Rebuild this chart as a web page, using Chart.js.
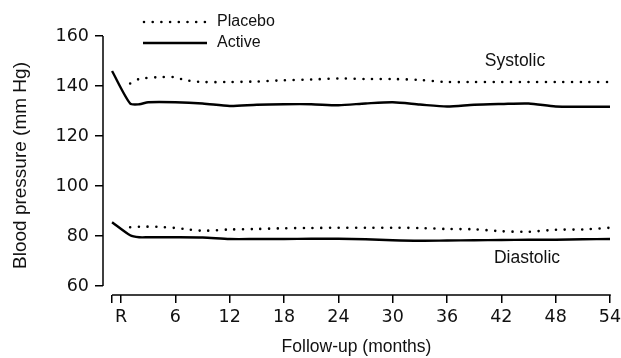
<!doctype html>
<html>
<head>
  <meta charset="utf-8" />
  <title>Blood pressure follow-up</title>
  <style>
    html, body { margin: 0; padding: 0; background: #fff; }
    .wrap { width: 621px; height: 358px; position: relative; }
  </style>
</head>
<body>
  <div class="wrap"><canvas id="chart" width="621" height="358"></canvas></div>

  <script src="https://cdn.jsdelivr.net/npm/chart.js@4.4.1/dist/chart.umd.min.js"></script>
  <script>
    // months of follow-up (-1 = screening, 0 = randomisation "R")
    const activeMonths  = [-1, 1, 2, 3, 6, 9, 12, 15, 18, 21, 24, 27, 30, 33, 36, 39, 42, 45, 48, 51, 54];
    const placeboMonths = [1, 2, 4, 6, 7, 9, 12, 15, 18, 21, 24, 27, 30, 33, 36, 39, 42, 45, 48, 51, 54];

    const activeSystolic   = [146, 133, 132.7, 133.5, 133.5, 133, 132, 132.5, 132.7, 132.7, 132.3, 133, 133.5, 132.6, 131.8, 132.5, 132.8, 133, 131.8, 131.7, 131.7];
    const activeDiastolic  = [85.5, 80.3, 79.5, 79.5, 79.5, 79.4, 78.8, 78.8, 78.8, 78.9, 78.9, 78.7, 78.3, 78.1, 78.2, 78.3, 78.4, 78.5, 78.5, 78.7, 78.8];
    const placeboSystolic  = [141, 142.8, 143.5, 143.5, 142.4, 141.6, 141.6, 141.8, 142.3, 142.6, 143, 142.8, 142.8, 142.4, 141.6, 141.6, 141.6, 141.6, 141.6, 141.6, 141.6];
    const placeboDiastolic = [83.5, 83.7, 83.7, 83.2, 82.8, 82.1, 82.6, 82.8, 83.1, 83.2, 83.3, 83.3, 83.3, 83.2, 82.8, 82.7, 81.9, 81.7, 82.5, 82.6, 83.3];

    const xTicks = [-1, 0, 6, 12, 18, 24, 30, 36, 42, 48, 54];
    const yTicks = [60, 80, 100, 120, 140, 160];

    const FONT = "'Liberation Sans', Arial, sans-serif";
    const TICKFONT = "'DejaVu Sans', sans-serif";

    function pts(xs, ys) { return xs.map((x, i) => ({ x, y: ys[i] })); }

    function line(label, xs, ys, dotted) {
      return {
        label,
        data: pts(xs, ys),
        borderColor: '#000',
        borderWidth: dotted ? 2.6 : 2.4,
        borderDash: dotted ? [0, 8.7] : [],
        borderCapStyle: dotted ? 'round' : 'butt',
        pointRadius: 0,
        tension: 0.25,
        fill: false
      };
    }

    // detached axis lines, legend and series labels
    const decor = {
      id: 'decor',
      afterDraw(chart) {
        const { ctx, scales: { x, y } } = chart;
        ctx.save();
        ctx.strokeStyle = '#000';
        ctx.lineWidth = 1.5;
        ctx.beginPath();
        ctx.moveTo(x.left, y.getPixelForValue(160));
        ctx.lineTo(x.left, y.getPixelForValue(60));
        ctx.moveTo(x.getPixelForValue(-1), y.bottom);
        ctx.lineTo(x.getPixelForValue(54) + 0.75, y.bottom);
        ctx.stroke();

        // legend
        ctx.lineWidth = 2.6;
        ctx.lineCap = 'round';
        ctx.setLineDash([0, 8.7]);
        ctx.beginPath(); ctx.moveTo(144, 22); ctx.lineTo(206, 22); ctx.stroke();
        ctx.setLineDash([]);
        ctx.lineCap = 'butt';
        ctx.lineWidth = 2.4;
        ctx.beginPath(); ctx.moveTo(143, 43); ctx.lineTo(207, 43); ctx.stroke();

        ctx.fillStyle = '#111';
        ctx.font = '16px ' + FONT;
        ctx.textBaseline = 'middle';
        ctx.textAlign = 'left';
        ctx.fillText('Placebo', 217, 22);
        ctx.fillText('Active', 217, 43);

        ctx.font = '17.5px ' + FONT;
        ctx.textAlign = 'center';
        ctx.fillText('Systolic', 515, 61);
        ctx.fillText('Diastolic', 527, 258);
        ctx.restore();
      }
    };

    new Chart(document.getElementById('chart'), {
      type: 'line',
      data: {
        datasets: [
          line('Placebo systolic', placeboMonths, placeboSystolic, true),
          line('Active systolic', activeMonths, activeSystolic, false),
          line('Placebo diastolic', placeboMonths, placeboDiastolic, true),
          line('Active diastolic', activeMonths, activeDiastolic, false)
        ]
      },
      options: {
        responsive: false,
        animation: false,
        layout: { padding: { top: 36, right: 1, left: 0, bottom: 0 } },
        plugins: { legend: { display: false }, tooltip: { enabled: false } },
        scales: {
          x: {
            type: 'linear',
            min: -2,
            max: 54,
            afterBuildTicks: (s) => { s.ticks = xTicks.map(v => ({ value: v })); },
            afterFit: (s) => { s.height = 63; s.paddingRight = 11; },
            ticks: {
              color: '#111',
              font: { family: TICKFONT, size: 17.5 },
              padding: 4,
              maxRotation: 0,
              autoSkip: false,
              callback: (v) => v === -1 ? '' : (v === 0 ? 'R' : String(v))
            },
            grid: { drawOnChartArea: false, drawTicks: true, tickLength: 8, color: '#000', lineWidth: 1.5 },
            border: { display: false },
            title: { display: true, text: 'Follow-up (months)', color: '#111', font: { family: FONT, size: 17.5 }, padding: { top: 0, bottom: 0 } }
          },
          y: {
            min: 160 - (295 - 36) / 2.5,
            max: 160,
            afterBuildTicks: (s) => { s.ticks = yTicks.map(v => ({ value: v })); },
            afterFit: (s) => { s.width = 103; },
            ticks: { color: '#111', font: { family: TICKFONT, size: 17.5 }, padding: 6 },
            grid: { drawOnChartArea: false, drawTicks: true, tickLength: 8, color: '#000', lineWidth: 1.5 },
            border: { display: false },
            title: { display: true, text: 'Blood pressure (mm Hg)', color: '#111', font: { family: FONT, size: 19 }, padding: { top: 9, bottom: 0 } }
          }
        }
      },
      plugins: [decor]
    });
  </script>
</body>
</html>
